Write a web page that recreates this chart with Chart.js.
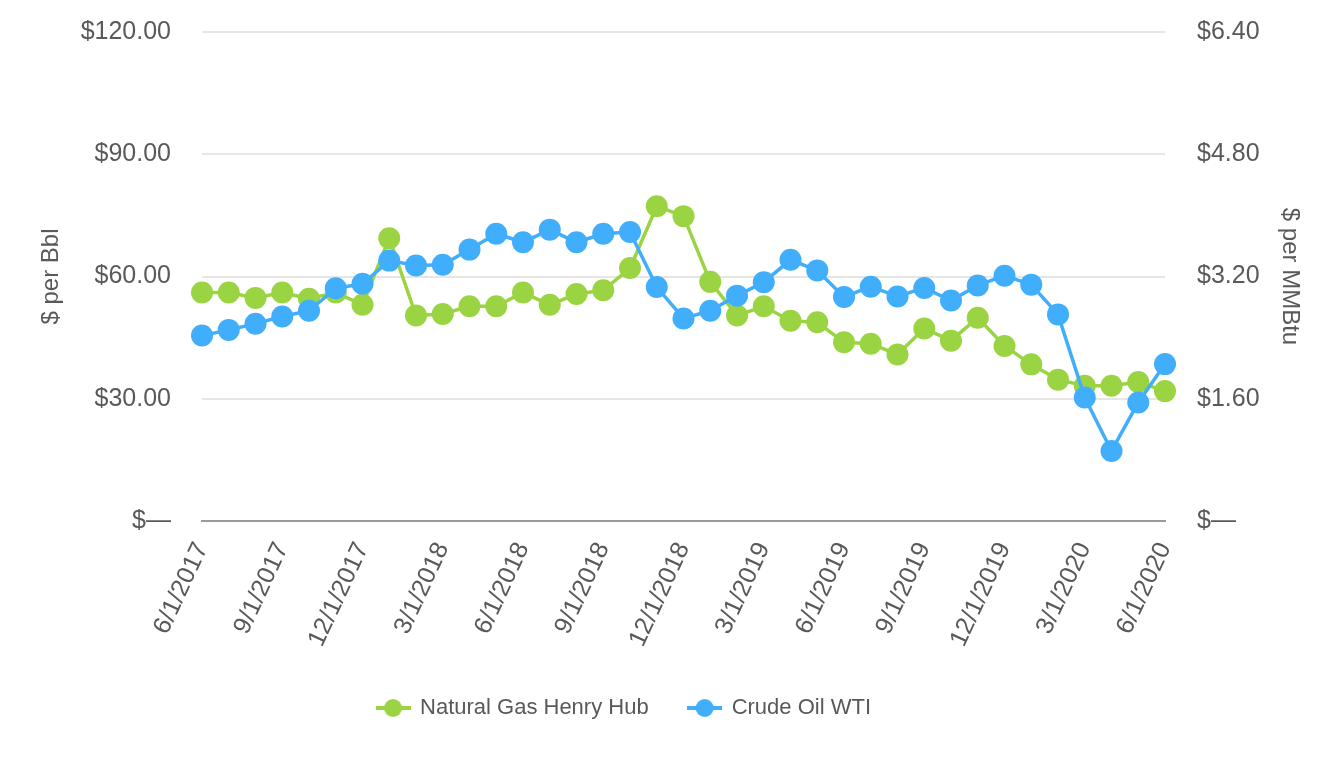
<!DOCTYPE html>
<html>
<head>
    <title>Natural Gas vs Crude Oil</title>
    <script src="https://cdn.jsdelivr.net/npm/chart.js@4.4.1/dist/chart.umd.min.js"></script>
    <style>
        body {
            margin: 0;
            background: #ffffff;
            font-family: "Liberation Sans", Arial, sans-serif;
        }
        .chart-box {
            width: 1340px;
            height: 760px;
            position: relative;
        }
    </style>
</head>
<body>
    <div class="chart-box">
        <canvas id="priceChart"></canvas>
    </div>

    <script>
        // Monthly dates, 6/1/2017 through 6/1/2020
        const dates = [
            '6/1/2017', '7/1/2017', '8/1/2017', '9/1/2017', '10/1/2017', '11/1/2017', '12/1/2017',
            '1/1/2018', '2/1/2018', '3/1/2018', '4/1/2018', '5/1/2018', '6/1/2018', '7/1/2018',
            '8/1/2018', '9/1/2018', '10/1/2018', '11/1/2018', '12/1/2018',
            '1/1/2019', '2/1/2019', '3/1/2019', '4/1/2019', '5/1/2019', '6/1/2019', '7/1/2019',
            '8/1/2019', '9/1/2019', '10/1/2019', '11/1/2019', '12/1/2019',
            '1/1/2020', '2/1/2020', '3/1/2020', '4/1/2020', '5/1/2020', '6/1/2020'
        ];

        // $ per MMBtu (right axis)
        const naturalGas = [
            2.99, 2.99, 2.92, 2.99, 2.91, 2.99, 2.83,
            3.70, 2.69, 2.71, 2.81, 2.81, 2.99, 2.83,
            2.97, 3.02, 3.31, 4.12, 3.99,
            3.13, 2.69, 2.81, 2.62, 2.60, 2.34, 2.32,
            2.18, 2.52, 2.36, 2.66, 2.29,
            2.05, 1.85, 1.77, 1.77, 1.82, 1.70
        ];

        // $ per Bbl (left axis)
        const crudeOil = [
            45.5, 46.9, 48.4, 50.2, 51.6, 57.1, 58.2,
            63.9, 62.7, 62.9, 66.6, 70.5, 68.4, 71.5,
            68.4, 70.5, 70.9, 57.4, 49.7,
            51.6, 55.3, 58.6, 64.1, 61.5, 55.0, 57.5,
            55.1, 57.2, 54.1, 57.8, 60.2,
            58.0, 50.7, 30.3, 17.2, 29.1, 38.5
        ];

        const bblTicks = [0, 30, 60, 90, 120];
        const mmbtuTicks = [0, 1.6, 3.2, 4.8, 6.4];

        const GREEN = '#9bd443';
        const BLUE = '#41aefc';
        const TEXT = '#595959';
        const FONT = '"Liberation Sans", Arial, sans-serif';

        // legend marker: short line with a dot on it
        function legendIcon(color) {
            const c = document.createElement('canvas');
            c.width = 35;
            c.height = 20;
            const g = c.getContext('2d');
            g.strokeStyle = color;
            g.lineWidth = 4;
            g.beginPath();
            g.moveTo(0, 10);
            g.lineTo(35, 10);
            g.stroke();
            g.fillStyle = color;
            g.beginPath();
            g.arc(17.5, 10, 9, 0, Math.PI * 2);
            g.fill();
            return c;
        }

        function money(v) {
            return v === 0 ? '$\u2014' : '$' + v.toFixed(2);
        }

        const icons = [legendIcon(BLUE), legendIcon(GREEN)];

        // the legend row sits a bit left of centre in the original
        const legendShift = {
            id: 'legendShift',
            afterLayout: function (ch) {
                if (ch.legend) ch.legend.right -= 92;
            }
        };

        const chart = new Chart(document.getElementById('priceChart'), {
            type: 'line',
            plugins: [legendShift],
            data: {
                labels: dates,
                datasets: [
                    {
                        label: 'Crude Oil WTI',
                        data: crudeOil,
                        yAxisID: 'y',
                        borderColor: BLUE,
                        backgroundColor: BLUE,
                        borderWidth: 3.5,
                        pointRadius: 11,
                        pointHoverRadius: 11,
                        pointBorderWidth: 0,
                        tension: 0
                    },
                    {
                        label: 'Natural Gas Henry Hub',
                        data: naturalGas,
                        yAxisID: 'y1',
                        borderColor: GREEN,
                        backgroundColor: GREEN,
                        borderWidth: 3.5,
                        pointRadius: 11,
                        pointHoverRadius: 11,
                        pointBorderWidth: 0,
                        tension: 0
                    }
                ]
            },
            options: {
                responsive: true,
                maintainAspectRatio: false,
                animation: false,
                layout: {
                    padding: { top: 32, left: 0, right: 0, bottom: 31 }
                },
                plugins: {
                    tooltip: { enabled: false },
                    legend: {
                        position: 'bottom',
                        reverse: true,
                        labels: {
                            usePointStyle: true,
                            pointStyleWidth: 32,
                            boxHeight: 20,
                            padding: 40,
                            color: TEXT,
                            font: { family: FONT, size: 22 },
                            generateLabels: function (ch) {
                                const items = Chart.defaults.plugins.legend.labels.generateLabels(ch);
                                items.forEach(function (it) {
                                    it.pointStyle = icons[it.datasetIndex];
                                });
                                return items;
                            }
                        }
                    }
                },
                scales: {
                    x: {
                        grid: { display: false },
                        border: { display: true, color: '#9a9a9a', width: 2 },
                        ticks: {
                            autoSkip: false,
                            minRotation: 65,
                            maxRotation: 65,
                            padding: 9,
                            color: TEXT,
                            font: { family: FONT, size: 25 },
                            callback: function (val, i) {
                                return i % 3 === 0 ? dates[i] : '';
                            }
                        },
                        afterFit: function (s) { s.height = 136; }
                    },
                    y: {
                        position: 'left',
                        min: 0,
                        max: 120,
                        afterBuildTicks: function (s) {
                            s.ticks = bblTicks.map(function (v) { return { value: v }; });
                        },
                        // gap between labels and plot made with an invisible tick mark
                        grid: { color: '#e6e6e6', lineWidth: 2, drawTicks: true, tickLength: 28, tickColor: 'rgba(0,0,0,0)' },
                        border: { display: false },
                        ticks: {
                            padding: 3,
                            color: TEXT,
                            font: { family: FONT, size: 25 },
                            callback: money
                        },
                        title: {
                            display: true,
                            text: '$ per Bbl',
                            color: TEXT,
                            font: { family: FONT, size: 24 },
                            padding: { top: 37, bottom: 0 }
                        },
                        afterFit: function (s) { s.width = 202; }
                    },
                    y1: {
                        position: 'right',
                        min: 0,
                        max: 6.4,
                        afterBuildTicks: function (s) {
                            s.ticks = mmbtuTicks.map(function (v) { return { value: v }; });
                        },
                        grid: { display: true, drawOnChartArea: false, drawTicks: true, tickLength: 29, tickColor: 'rgba(0,0,0,0)' },
                        border: { display: false },
                        ticks: {
                            padding: 3,
                            color: TEXT,
                            font: { family: FONT, size: 25 },
                            callback: money
                        },
                        title: {
                            display: true,
                            text: '$ per MMBtu',
                            color: TEXT,
                            font: { family: FONT, size: 24 },
                            padding: { top: 36, bottom: 0 }
                        },
                        afterFit: function (s) { s.width = 175; }
                    }
                }
            }
        });
    </script>
</body>
</html>
